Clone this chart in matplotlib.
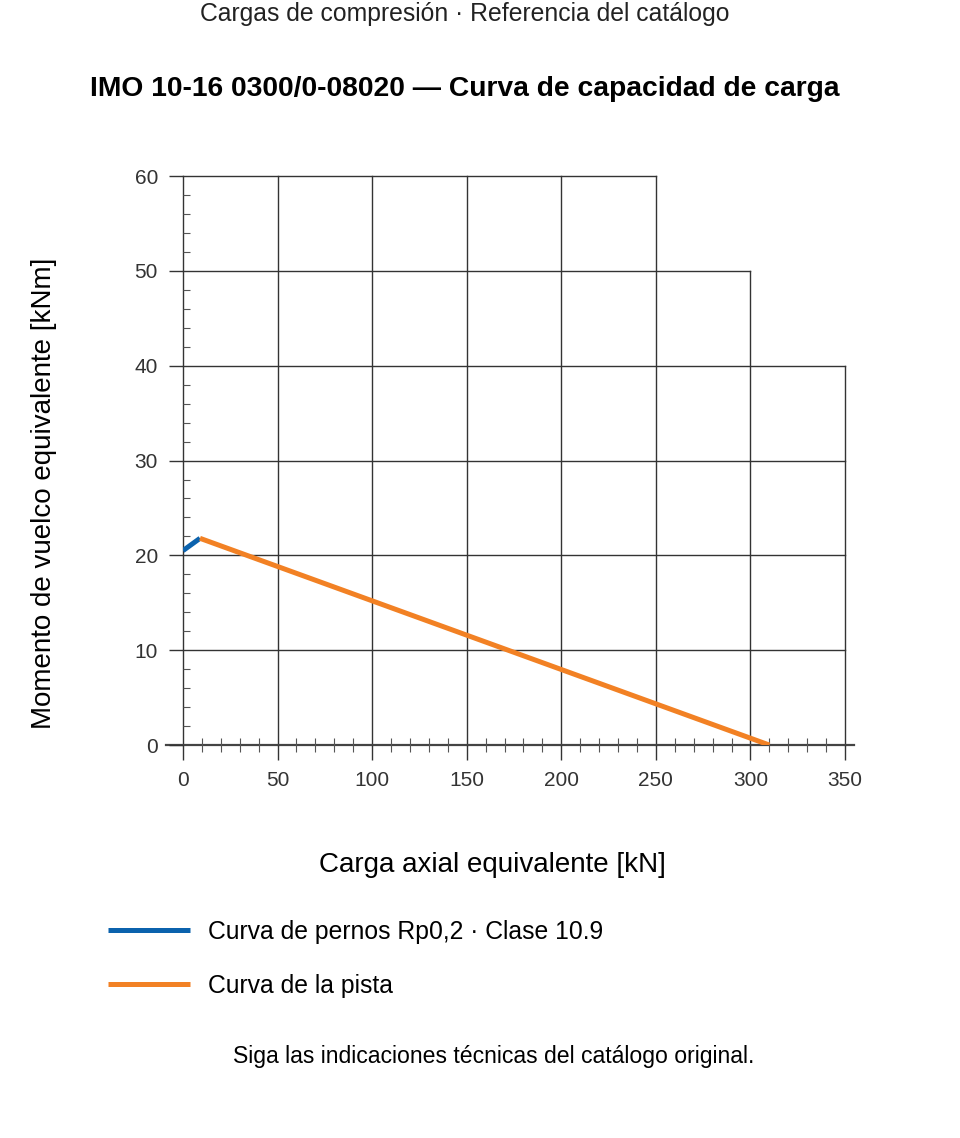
import matplotlib.pyplot as plt
from matplotlib.ticker import MultipleLocator

x_pernos = [0, 9]
y_pernos = [20.5, 21.8]
x_pista = [9, 310]
y_pista = [21.8, 0]

# Límite escalonado de la rejilla (columna -> altura máxima)
grid_x = [0, 50, 100, 150, 200, 250, 300, 350]
grid_top = [60, 60, 60, 60, 60, 60, 50, 40]
grid_y = [10, 20, 30, 40, 50, 60]
grid_right = [350, 350, 350, 350, 300, 250]

plt.rcParams['font.family'] = ['Liberation Sans', 'DejaVu Sans']
tick_font = ['Liberation Sans Narrow', 'Liberation Sans', 'DejaVu Sans']

fig = plt.figure(figsize=(9.6, 11.38), dpi=100)
ax = fig.add_axes([0.1906, 0.3453, 0.6896, 0.5])

gc = '#333333'
for gx, top in zip(grid_x, grid_top):
    ax.plot([gx, gx], [0, top], color=gc, lw=1.0, clip_on=False, zorder=1)
for gy, right in zip(grid_y, grid_right):
    ax.plot([0, right], [gy, gy], color=gc, lw=1.0, clip_on=False, zorder=1)
# eje x prolongado
ax.plot([-9, 355], [0, 0], color='#444444', lw=1.6, clip_on=False, zorder=1)

ax.plot(x_pernos, y_pernos, color='#0b62ad', lw=3.6, solid_capstyle='butt',
        label='Curva de pernos Rp0,2 · Clase 10.9', zorder=3)
ax.plot(x_pista, y_pista, color='#f28124', lw=3.6, solid_capstyle='butt',
        label='Curva de la pista', zorder=3)

ax.set_xlim(0, 350)
ax.set_ylim(0, 60)
for s in ax.spines.values():
    s.set_visible(False)

ax.xaxis.set_major_locator(MultipleLocator(50))
ax.xaxis.set_minor_locator(MultipleLocator(10))
ax.yaxis.set_major_locator(MultipleLocator(10))
ax.yaxis.set_minor_locator(MultipleLocator(2))
ax.tick_params(axis='x', which='major', direction='out', length=11, width=1.0,
               color=gc, pad=8, labelsize=15, labelcolor='#333333')
ax.tick_params(axis='x', which='minor', direction='inout', length=10, width=0.8,
               color='#555555')
ax.tick_params(axis='y', which='major', direction='out', length=10, width=1.0,
               color=gc, pad=8, labelsize=15, labelcolor='#333333')
ax.tick_params(axis='y', which='minor', direction='in', length=5, width=0.8,
               color='#555555')
for lab in ax.get_xticklabels() + ax.get_yticklabels():
    lab.set_family(tick_font)

ax.set_xlabel('Carga axial equivalente [kN]', fontsize=20, labelpad=44)
ax.set_ylabel('Momento de vuelco equivalente [kNm]', fontsize=20, labelpad=56)
ax.xaxis.label.set_x(0.468)
ax.yaxis.label.set_y(0.443)

fig.text(0.484, 0.988, 'Cargas de compresión · Referencia del catálogo',
         ha='center', va='center', fontsize=17.8, color='#222222')
fig.text(0.484, 0.9218, 'IMO 10-16 0300/0-08020 — Curva de capacidad de carga',
         ha='center', va='center', fontsize=20.3, fontweight='bold')

fig.legend(loc='upper left', bbox_to_anchor=(0.1125, 0.1915), frameon=False,
           fontsize=17.8, handlelength=3.3, handletextpad=0.73,
           labelspacing=1.2, borderpad=0, borderaxespad=0)

fig.text(0.514, 0.0715, 'Siga las indicaciones técnicas del catálogo original.',
         ha='center', va='center', fontsize=16.6)

plt.savefig('out.png', dpi=100)
